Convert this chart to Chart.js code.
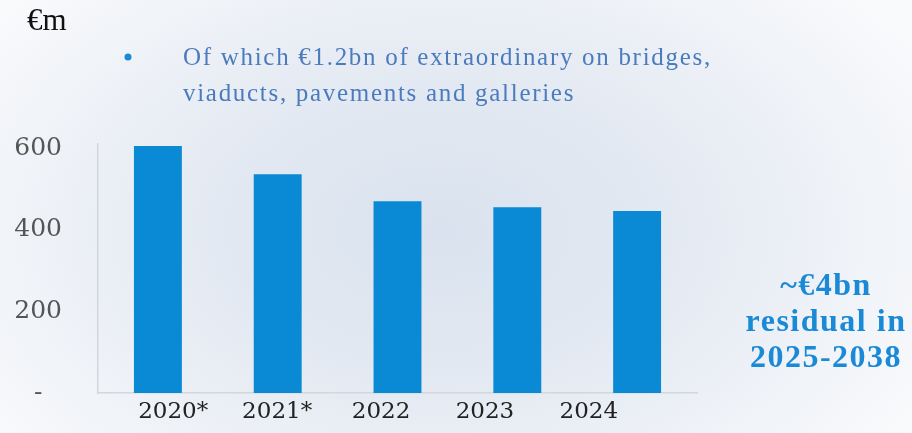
<!DOCTYPE html>
<html>
<head>
<meta charset="utf-8">
<script src="https://cdn.jsdelivr.net/npm/chart.js@4.4.1/dist/chart.umd.min.js"></script>
<style>
    html, body { margin: 0; padding: 0; }
    body {
        width: 912px; height: 433px; overflow: hidden;
        background: radial-gradient(ellipse 560px 360px at 440px 230px, #d9e2ee 0%, #e3e9f2 40%, #f9fafc 100%);
    }
    #wrap { position: relative; width: 912px; height: 433px; }
</style>
</head>
<body>
<div id="wrap"><canvas id="capexChart"></canvas></div>
<script>
const years = ['2020*', '2021*', '2022', '2023', '2024'];
const capex = [605, 536, 470, 455, 446];
const yTicks = [0, 200, 400, 600];
const yTickLabels = ['-', '200', '400', '600'];
const unitLabel = '€m';
const noteLines = ['Of which €1.2bn of extraordinary on bridges,', 'viaducts, pavements and galleries'];
const sideLines = ['~€4bn', 'residual in', '2025-2038'];

const BLUE = '#0a8ad4';
const AXIS_GREY = '#d3d6da';

// texts around the plot
const annotations = {
    id: 'annotations',
    afterDraw(chart) {
        const ctx = chart.ctx;
        ctx.save();
        ctx.textBaseline = 'middle';

        ctx.fillStyle = '#111';
        ctx.font = '31px "Liberation Serif"';
        ctx.textAlign = 'left';
        ctx.fillText(unitLabel, 27, 22);

        ctx.fillStyle = '#1a8ad6';
        ctx.beginPath();
        ctx.arc(128, 57, 3.5, 0, Math.PI * 2);
        ctx.fill();

        ctx.fillStyle = '#4b7bbd';
        ctx.font = '25px "Liberation Serif"';
        ctx.letterSpacing = '1.7px';
        ctx.fillText(noteLines[0], 183, 58);
        ctx.fillText(noteLines[1], 183, 94);

        ctx.fillStyle = '#1a8ad6';
        ctx.font = 'bold 32px "Liberation Serif"';
        ctx.letterSpacing = '1.5px';
        ctx.textAlign = 'center';
        sideLines.forEach(function (line, i) {
            ctx.fillText(line, 826, 287 + i * 36);
        });
        ctx.restore();
    }
};

new Chart(document.getElementById('capexChart'), {
    type: 'bar',
    data: {
        labels: years,
        datasets: [{
            data: capex,
            backgroundColor: BLUE,
            barPercentage: 0.4,
            categoryPercentage: 1
        }]
    },
    options: {
        responsive: true,
        maintainAspectRatio: false,
        animation: false,
        devicePixelRatio: 1,
        layout: { padding: { left: 0, right: 215, top: 144, bottom: 0 } },
        plugins: {
            legend: { display: false },
            tooltip: { enabled: false }
        },
        scales: {
            y: {
                min: 0,
                max: 610,
                afterBuildTicks: function (scale) {
                    scale.ticks = yTicks.map(function (v) { return { value: v }; });
                },
                afterFit: function (scale) {
                    scale.width = 98;
                    // big label padding must not push the plot up
                    scale.paddingTop = 0;
                    scale.paddingBottom = 0;
                },
                grid: { display: false, drawTicks: false },
                border: { color: AXIS_GREY, width: 1.5 },
                ticks: {
                    crossAlign: 'center',
                    padding: 36,
                    color: '#555',
                    font: { family: 'DejaVu Serif', size: 25 },
                    callback: function (v) { return yTickLabels[yTicks.indexOf(v)]; }
                }
            },
            x: {
                afterFit: function (scale) { scale.height = 0; },
                grid: { display: false, drawTicks: false },
                border: { color: AXIS_GREY, width: 1.5 },
                ticks: { display: false }
            },
            // year labels sit on their own evenly spaced axis, as in the slide
            xl: {
                type: 'linear',
                position: 'bottom',
                offset: false,
                bounds: 'data',
                min: -0.724,
                max: 5.041,
                afterBuildTicks: function (scale) {
                    scale.ticks = years.map(function (_, i) { return { value: i }; });
                },
                afterFit: function (scale) { scale.height = 40; },
                grid: { display: false, drawTicks: false, offset: false },
                border: { display: false },
                ticks: {
                    autoSkip: false,
                    maxRotation: 0,
                    padding: 5,
                    color: '#222',
                    font: { family: 'DejaVu Serif', size: 23 },
                    callback: function (v) { return years[v]; }
                }
            }
        }
    },
    plugins: [annotations]
});
</script>
</body>
</html>
